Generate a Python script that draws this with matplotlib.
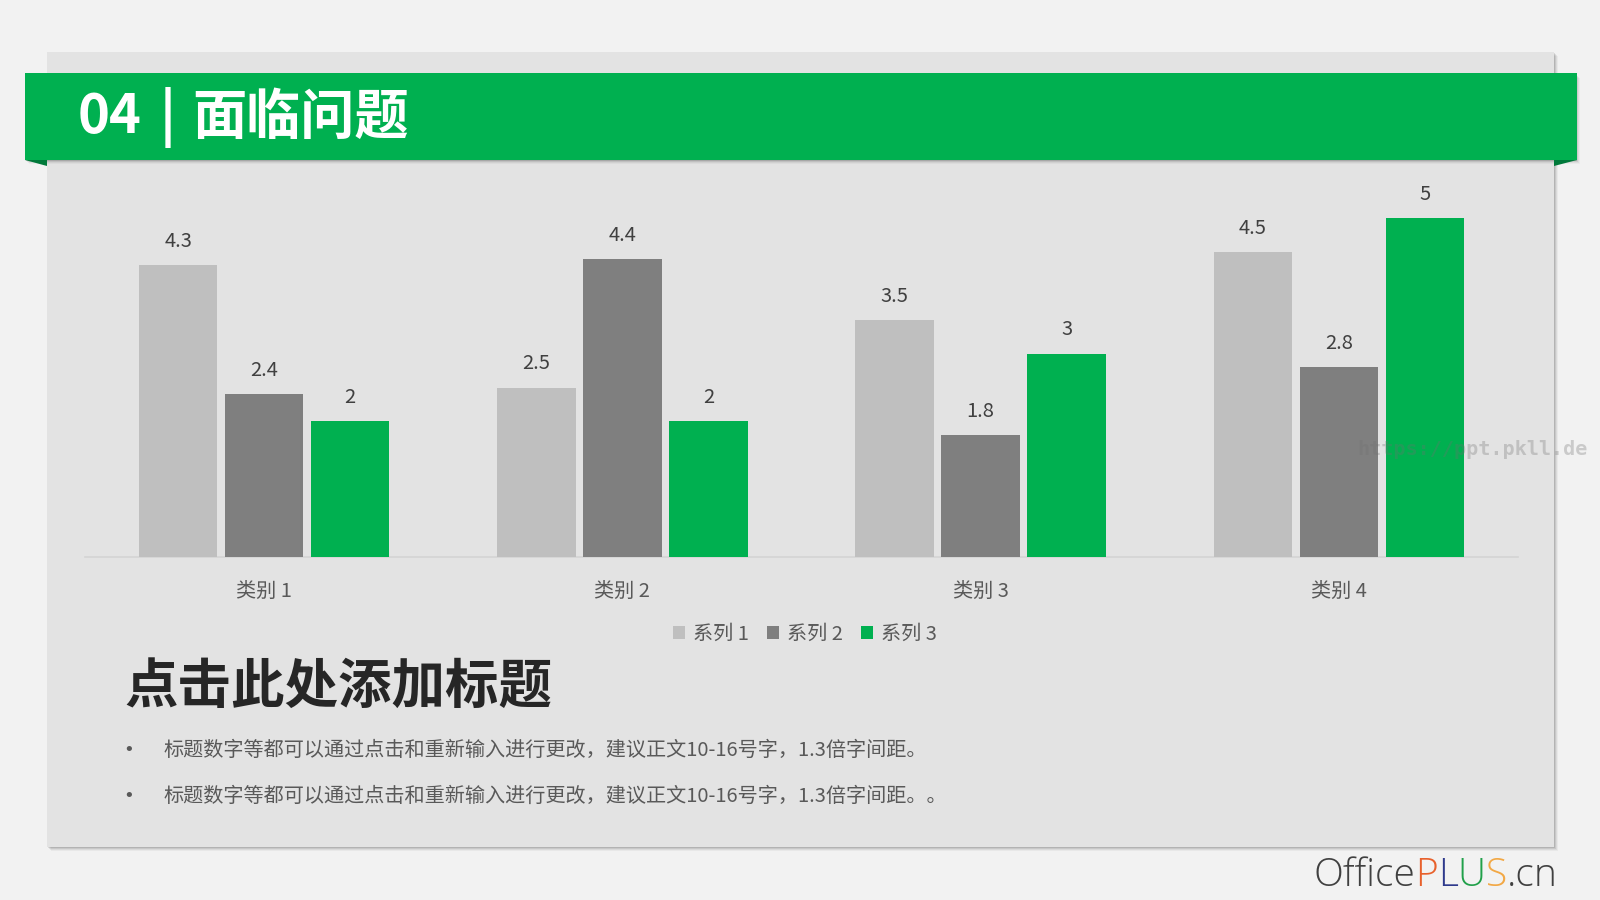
import matplotlib
matplotlib.use("Agg")
import matplotlib.pyplot as plt
from matplotlib.patches import Rectangle, Polygon
import numpy as np

plt.rcParams['font.family'] = ['Noto Sans CJK SC', 'DejaVu Sans']

categories = ["类别 1", "类别 2", "类别 3", "类别 4"]
series_names = ["系列 1", "系列 2", "系列 3"]
series1 = [4.3, 2.5, 3.5, 4.5]
series2 = [2.4, 4.4, 1.8, 2.8]
series3 = [2, 2, 3, 5]
series_colors = ["#bfbfbf", "#7f7f7f", "#00b050"]

title_text = "04 | 面临问题"
heading_text = "点击此处添加标题"
bullets = [
    "标题数字等都可以通过点击和重新输入进行更改，建议正文10-16号字，1.3倍字间距。",
    "标题数字等都可以通过点击和重新输入进行更改，建议正文10-16号字，1.3倍字间距。。",
]

W, H = 1600, 900
fig = plt.figure(figsize=(16, 9), dpi=100)
fig.patch.set_facecolor("#f2f2f2")

bg = fig.add_axes([0, 0, 1, 1])
bg.set_xlim(0, W)
bg.set_ylim(H, 0)
bg.axis("off")

# panel shadow + panel
for i, a in enumerate([0.10, 0.08, 0.06, 0.04]):
    bg.add_patch(Rectangle((47 + 1 + i, 52 + 1 + i), 1507, 795, facecolor="#000000", alpha=a, lw=0, zorder=1))
bg.add_patch(Rectangle((47, 52), 1507, 795, facecolor="#e3e3e3", lw=0, zorder=2))

# banner shadow, folds, banner
for i, a in enumerate([0.12, 0.08, 0.05, 0.03]):
    bg.add_patch(Rectangle((26 + i, 74 + 1 + i), 1551, 86, facecolor="#000000", alpha=a, lw=0, zorder=3))
bg.add_patch(Polygon([(25, 160), (47, 160), (47, 166)], closed=True, facecolor="#00793a", lw=0, zorder=4))
bg.add_patch(Polygon([(1554, 160), (1577, 160), (1554, 166)], closed=True, facecolor="#00793a", lw=0, zorder=4))
bg.add_patch(Rectangle((25, 73), 1552, 87, facecolor="#00b050", lw=0, zorder=5))
bg.text(78, 118, "04", color="white", fontsize=39, fontweight="bold", va="center", ha="left", zorder=6)
bg.text(168, 118, "|", color="white", fontsize=39, fontweight="bold", va="center", ha="center", zorder=6)
bg.text(192, 118, title_text.split("| ")[1], color="white", fontsize=39, fontweight="bold",
        va="center", ha="left", zorder=6)

# heading and bullets
bg.text(124, 687, heading_text, color="#262626", fontsize=38.5, fontweight="heavy", va="center", ha="left", zorder=6)
for k, b in enumerate(bullets):
    y = 750 + k * 46
    bg.text(129, y, "•", color="#595959", fontsize=13, fontfamily="DejaVu Sans", va="center", ha="center", zorder=6)
    bg.text(163, y, b, color="#595959", fontsize=14.5, va="center", ha="left", zorder=6)

# chart axes
x0, x1 = 85, 1518
y_base, px_per_unit = 557, (557 - 218) / 5.0
ymax = 5.5
ax = fig.add_axes([x0 / W, 1 - y_base / H, (x1 - x0) / W, ymax * px_per_unit / H])
ax.set_facecolor("none")
ax.set_xlim(-0.5, 3.5)
ax.set_ylim(0, ymax)
x = np.arange(len(categories))
bw, off = 0.219, 0.24
for j, (vals, col, name) in enumerate(zip([series1, series2, series3], series_colors, series_names)):
    ax.bar(x + (j - 1) * off, vals, bw, color=col, label=name, zorder=3)
    for xi, v in zip(x + (j - 1) * off, vals):
        ax.annotate(f"{v:g}", (xi, v), xytext=(0, 17), textcoords="offset points",
                    ha="center", va="center", fontsize=14.5, color="#404040")
for s in ["top", "right", "left"]:
    ax.spines[s].set_visible(False)
ax.spines["bottom"].set_color("#d4d4d4")
ax.spines["bottom"].set_linewidth(1.2)
ax.set_yticks([])
ax.set_xticks(x)
ax.set_xticklabels(categories, fontsize=14.5, color="#595959")
ax.tick_params(axis="x", length=0, pad=17)

fig.legend(loc="center", bbox_to_anchor=(805 / W, 1 - 634 / H), ncol=3, frameon=False,
           fontsize=14.5, labelcolor="#595959", handlelength=0.6, handleheight=0.6,
           handletextpad=0.4, columnspacing=0.9)

# watermark (on top of everything)
fig.text(1472 / W, 1 - 449 / H, "https://ppt.pkll.de", color="#707070", alpha=0.3, fontsize=14.5,
         fontfamily="DejaVu Sans Mono", fontweight="bold", va="center", ha="center", zorder=20)

# OfficePLUS logo
segs = [("Office", "#404040"), ("P", "#e8612c"), ("L", "#2e3a8c"), ("U", "#21a04a"),
        ("S", "#f2a845"), (".cn", "#404040")]
fig.canvas.draw()
r = fig.canvas.get_renderer()
xx = 1313
for s, c in segs:
    t = bg.text(xx, 876, s, color=c, fontsize=28, fontfamily="Open Sans", fontweight="light",
                va="center", ha="left", zorder=10)
    bb = t.get_window_extent(renderer=r)
    xx += bb.width

fig.savefig("out.png", dpi=100, facecolor=fig.get_facecolor())
